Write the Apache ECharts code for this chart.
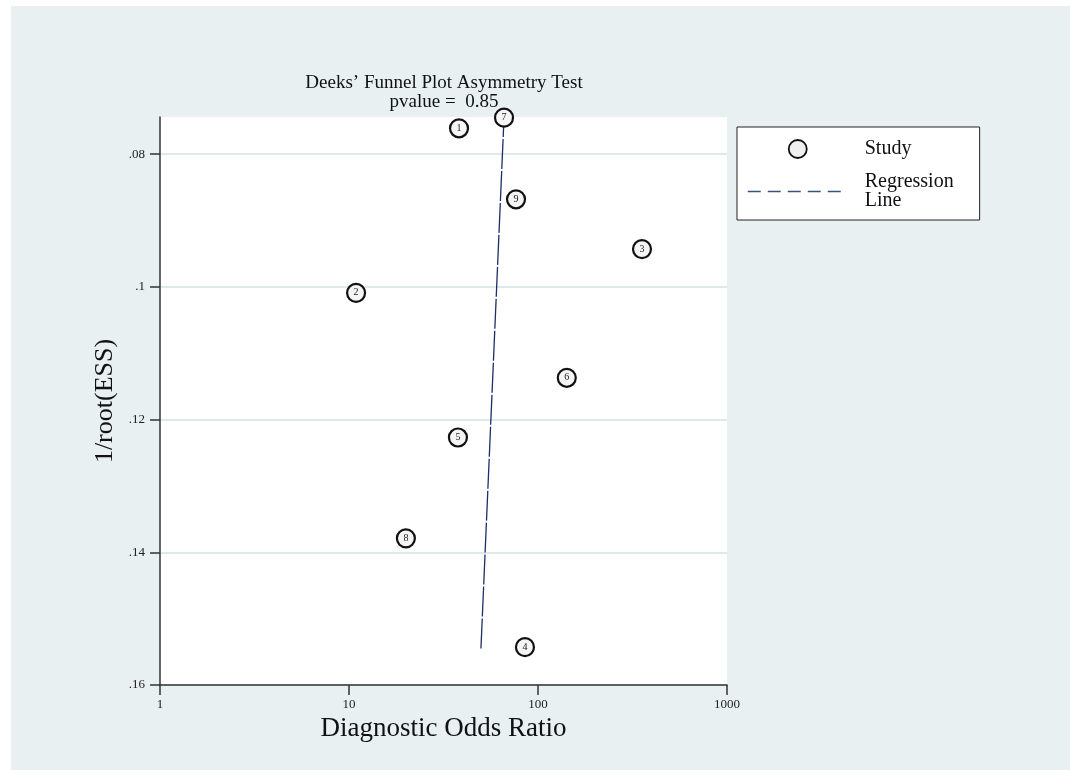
<!DOCTYPE html>
<html>
<head>
<meta charset="utf-8">
<script src="https://cdn.jsdelivr.net/npm/echarts@6/dist/echarts.min.js"></script>
<style>html,body{margin:0;padding:0;background:#fff;}#c{width:1070px;height:770px;}</style>
</head>
<body>
<div id="c"></div>
<script>
// Study labels, diagnostic odds ratio (x) and 1/root(ESS) (y)
const studyLabels = ['1', '2', '3', '4', '5', '6', '7', '8', '9'];
const studyDOR = [38.2, 10.9, 355, 85.3, 37.7, 142, 66.1, 20.0, 76.5];
const studyInvRootESS = [0.0761, 0.1009, 0.0943, 0.1543, 0.1227, 0.1137, 0.0745, 0.1379, 0.0868];
// Regression line end points
const regDOR = [49.9, 66.1];
const regInvRootESS = [0.1545, 0.0745];
// Tick labels
const yTicks = [0.08, 0.1, 0.12, 0.14, 0.16];
const xTicks = [1, 10, 100, 1000];

const FONT = '"Liberation Serif", "DejaVu Serif", serif';

const chart = echarts.init(document.getElementById('c'), null, {renderer: 'canvas'});

const scatterData = studyLabels.map((s, i) => ({value: [studyDOR[i], studyInvRootESS[i]], name: s}));
const regData = regDOR.map((x, i) => [x, regInvRootESS[i]]);

chart.setOption({
  backgroundColor: '#ffffff',
  animation: false,
  graphic: [{
    type: 'rect', z: -10, silent: true,
    shape: {x: 11, y: 6, width: 1070 - 11, height: 770 - 6},
    style: {fill: '#e8f0f2'}
  }],
  title: {
    text: 'Deeks\u2019 Funnel Plot Asymmetry Test\npvalue =  0.85',
    left: 444, top: 74, textAlign: 'center', padding: 0,
    textStyle: {fontFamily: FONT, fontSize: 19, fontWeight: 'normal', color: '#111', lineHeight: 19}
  },
  legend: {
    orient: 'vertical', left: 737, top: 127,
    padding: [12, 26, 9, 10],
    itemWidth: 100, itemHeight: 18, itemGap: 13,
    backgroundColor: '#ffffff', borderColor: '#222', borderWidth: 1, borderRadius: 0,
    textStyle: {fontFamily: FONT, fontSize: 20, color: '#111', lineHeight: 19, padding: [0, 0, 0, 12]},
    data: [
      {name: 'Study', icon: 'circle', itemStyle: {color: '#f0f0f0', borderColor: '#111', borderWidth: 1.8}},
      {name: 'Regression\nLine',
       itemStyle: {color: 'rgba(0,0,0,0)', borderColor: 'rgba(0,0,0,0)', borderWidth: 0},
       lineStyle: {type: [13, 7], color: '#3a5278', width: 1.5}}
    ]
  },
  grid: {
    left: 160, right: 1070 - 727, top: 117, bottom: 770 - 685,
    show: true, backgroundColor: '#ffffff', borderWidth: 0, containLabel: false
  },
  xAxis: {
    type: 'log', logBase: 10, min: 1, max: 1000,
    name: 'Diagnostic Odds Ratio', nameLocation: 'middle', nameGap: 27,
    nameTextStyle: {fontFamily: FONT, fontSize: 27, color: '#111'},
    axisLine: {show: true, onZero: false, lineStyle: {color: '#333', width: 1.5}},
    axisTick: {show: true, length: 10, inside: false, customValues: xTicks, lineStyle: {color: '#333', width: 1.5}},
    axisLabel: {show: true, customValues: xTicks, fontFamily: FONT, fontSize: 13, color: '#222', margin: 13, formatter: v => String(v)},
    splitLine: {show: false},
    minorTick: {show: false}
  },
  yAxis: {
    type: 'value', inverse: true, min: 0.0744, max: 0.16,
    name: '1/root(ESS)', nameLocation: 'middle', nameGap: 42, nameRotate: 90,
    nameTextStyle: {fontFamily: FONT, fontSize: 26, color: '#111'},
    axisLine: {show: true, onZero: false, lineStyle: {color: '#333', width: 1.5}},
    axisTick: {show: true, length: 10, inside: false, customValues: yTicks, lineStyle: {color: '#333', width: 1.5}},
    axisLabel: {show: true, customValues: yTicks, fontFamily: FONT, fontSize: 13, color: '#222', margin: 15,
      formatter: v => String(+v.toFixed(4)).replace(/^0/, '')},
    splitLine: {show: true, lineStyle: {color: '#dde9ec', width: 2}}
  },
  series: [
    {
      name: 'Regression\nLine', type: 'line', data: regData,
      symbol: 'none', showSymbol: false, clip: false, z: 2,
      lineStyle: {color: '#1a2f66', width: 1.3, type: [30, 2]}
    },
    {
      name: 'Study', type: 'scatter', data: scatterData, clip: false, z: 3,
      symbol: 'circle', symbolSize: 18,
      itemStyle: {color: '#f5f5f5', borderColor: '#111', borderWidth: 2.2, opacity: 1},
      label: {show: true, position: 'inside', formatter: p => p.name, fontFamily: FONT, fontSize: 10, color: '#222'}
    }
  ]
});
</script>
</body>
</html>
